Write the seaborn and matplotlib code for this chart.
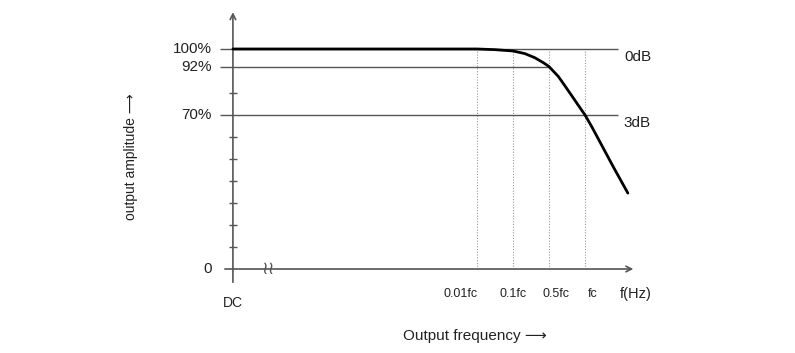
import matplotlib
matplotlib.use("Agg")
import matplotlib.pyplot as plt
import seaborn as sns
import pandas as pd

# ---- data ----
freq_labels = ["0.01fc", "0.1fc", "0.5fc", "fc"]
freq_pos = [0, 1, 2, 3]
curve_pos = [-6.78, 0.0, 0.5, 1.0, 1.33, 1.61, 1.85, 2.0, 2.26, 2.44, 2.63, 2.81,
             3.0, 3.19, 3.42, 3.78, 4.19]
curve_amp = [100, 100, 99.7, 99.1, 97.9, 96.0, 93.7, 92.0, 87.5, 83.3, 78.8, 74.5,
             70, 64.6, 57.6, 46.6, 34.5]
level_values = [100, 92, 70]
level_labels = ["100%", "92%", "70%"]
db_values = [100, 70]
db_labels = ["0dB", "3dB"]
minor_ticks = [10, 20, 30, 40, 50, 60, 80]

# ---- layout constants ----
DC = -6.78
sns.set_theme(style="white")
plt.rcParams["font.family"] = ["Liberation Sans", "DejaVu Sans"]

fig = plt.figure(figsize=(7.95, 3.53), dpi=100)
ax = fig.add_axes([0, 0, 1, 1])

line_col = "#555555"
txt_col = "#222222"

# reference levels
ends = {100: 3.92, 92: 2.0, 70: 3.92}
for v, lab in zip(level_values, level_labels):
    ax.hlines(v, -7.14, ends[v], color=line_col, lw=1.0, zorder=2)
    ax.text(-7.36, v, lab, ha="right", va="center", fontsize=11, color=txt_col)
ax.text(-7.36, 0, "0", ha="right", va="center", fontsize=11, color=txt_col)

for v, lab in zip(db_values, db_labels):
    ax.text(4.08, v - 3.6, lab, ha="left", va="center", fontsize=11, color=txt_col)

# dotted verticals
ax.vlines(freq_pos, 0, 100, colors="#9a9a9a", linestyles=(0, (1, 1.5)), lw=0.8, zorder=1)

# axes with arrows
ax.annotate("", xy=(DC, 118), xytext=(DC, -7.3),
            arrowprops=dict(arrowstyle="->", color=line_col, lw=1.2, mutation_scale=10))
ax.annotate("", xy=(4.42, 0), xytext=(-7.08, 0),
            arrowprops=dict(arrowstyle="->", color=line_col, lw=1.2, mutation_scale=10))
ax.hlines(minor_ticks, DC - 0.11, DC + 0.11, color=line_col, lw=1.0)
ax.text(-5.8, 0, "≀≀", ha="center", va="center", fontsize=13, color=line_col,
        family=["DejaVu Sans"])

# curve
df = pd.DataFrame({"pos": curve_pos, "amp": curve_amp})
sns.lineplot(data=df, x="pos", y="amp", ax=ax, color="black", lw=2.0, sort=False, zorder=3)
ax.axis("off")
ax.set_xlim(-13.25, 8.833)
ax.set_ylim(-38.18, 122.27)

# frequency tick labels
label_shift = [-0.47, 0.0, 0.2, 0.2]
for p, s, lab in zip(freq_pos, label_shift, freq_labels):
    ax.text(p + s, -11.4, lab, ha="center", va="center", fontsize=9, color=txt_col)
ax.text(4.4, -11.4, "f(Hz)", ha="center", va="center", fontsize=10.5, color=txt_col)
ax.text(DC, -15.5, "DC", ha="center", va="center", fontsize=10, color=txt_col)

ax.text(-0.05, -30.5, "Output frequency \u27f6", ha="center", va="center", fontsize=11,
        color=txt_col)
ax.text(-9.61, 50.9, "output amplitude \u27f6", ha="center", va="center", fontsize=10,
        rotation=90, color=txt_col)

fig.savefig("out.png", dpi=100, facecolor="white")
